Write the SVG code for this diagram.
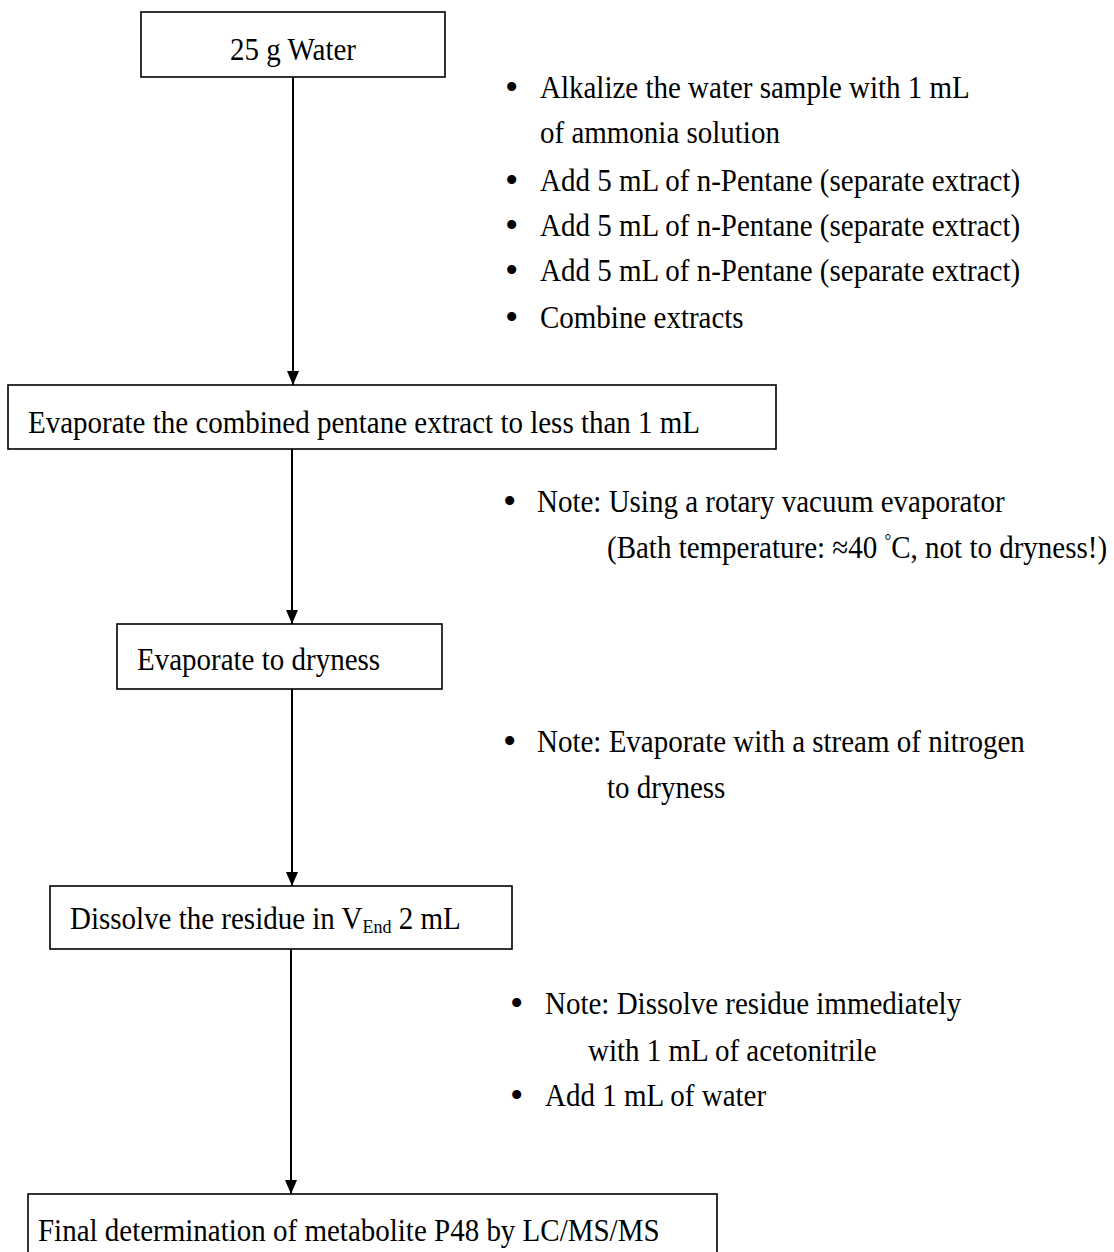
<svg xmlns="http://www.w3.org/2000/svg" width="1114" height="1252" viewBox="0 0 1114 1252">
<style>
.box{fill:#fff;stroke:#000;stroke-width:1.6}
.t{font-family:"Liberation Serif","Times New Roman",serif;font-size:29px;fill:#000}
.b{font-family:"Liberation Serif","Times New Roman",serif;font-size:38px;fill:#000}
.c{stroke:#000;stroke-width:2;fill:none}
</style>
<defs>
<marker id="ah" viewBox="0 0 14 12" refX="14" refY="6" markerWidth="14" markerHeight="12" markerUnits="userSpaceOnUse" orient="auto">
<path d="M0,0 L14,6 L0,12 Z" fill="#000"/>
</marker>
</defs>
<rect width="1114" height="1252" fill="#fff"/>
<g id="connectors">
<line class="c" x1="293" y1="77" x2="293" y2="385" marker-end="url(#ah)"/>
<line class="c" x1="292" y1="449" x2="292" y2="624" marker-end="url(#ah)"/>
<line class="c" x1="292" y1="689" x2="292" y2="886" marker-end="url(#ah)"/>
<line class="c" x1="291" y1="949" x2="291" y2="1194" marker-end="url(#ah)"/>
</g>
<g id="n1">
<rect class="box" x="141" y="12" width="304" height="65"/>
<text class="t" text-anchor="middle" transform="translate(293 60) scale(1 1.1)">25 g Water</text>
</g>
<g id="notes1">
<text class="b" x="505" y="100">•</text>
<text class="t" transform="translate(540 98) scale(1 1.1)">Alkalize the water sample with 1 mL</text>
<text class="t" transform="translate(540 143) scale(1 1.1)">of ammonia solution</text>
<text class="b" x="505" y="193">•</text>
<text class="t" transform="translate(540 191) scale(1 1.1)">Add 5 mL of n-Pentane (separate extract)</text>
<text class="b" x="505" y="238">•</text>
<text class="t" transform="translate(540 236) scale(1 1.1)">Add 5 mL of n-Pentane (separate extract)</text>
<text class="b" x="505" y="283">•</text>
<text class="t" transform="translate(540 281) scale(1 1.1)">Add 5 mL of n-Pentane (separate extract)</text>
<text class="b" x="505" y="330">•</text>
<text class="t" transform="translate(540 328) scale(1 1.1)">Combine extracts</text>
</g>
<g id="n2">
<rect class="box" x="8" y="385" width="768" height="64"/>
<text class="t" transform="translate(28 433) scale(1 1.1)">Evaporate the combined pentane extract to less than 1 mL</text>
</g>
<g id="notes2">
<text class="b" x="503" y="514">•</text>
<text class="t" transform="translate(537 512) scale(1 1.1)">Note: Using a rotary vacuum evaporator</text>
<text class="t" transform="translate(607 558) scale(1 1.1)">(Bath temperature: ≈40 <tspan font-size="17" dy="-10">°</tspan><tspan dy="10">C, not to dryness!)</tspan></text>
</g>
<g id="n3">
<rect class="box" x="117" y="624" width="325" height="65"/>
<text class="t" transform="translate(137 670) scale(1 1.1)">Evaporate to dryness</text>
</g>
<g id="notes3">
<text class="b" x="503" y="754">•</text>
<text class="t" transform="translate(537 752) scale(1 1.1)">Note: Evaporate with a stream of nitrogen</text>
<text class="t" transform="translate(607 798) scale(1 1.1)">to dryness</text>
</g>
<g id="n4">
<rect class="box" x="50" y="886" width="462" height="63"/>
<text class="t" transform="translate(70 929) scale(1 1.1)">Dissolve the residue in V<tspan font-size="18" dy="4">End</tspan><tspan dy="-4"> 2 mL</tspan></text>
</g>
<g id="notes4">
<text class="b" x="510" y="1016">•</text>
<text class="t" transform="translate(545 1014) scale(1 1.1)">Note: Dissolve residue immediately</text>
<text class="t" transform="translate(588 1061) scale(1 1.1)">with 1 mL of acetonitrile</text>
<text class="b" x="510" y="1108">•</text>
<text class="t" transform="translate(545 1106) scale(1 1.1)">Add 1 mL of water</text>
</g>
<g id="n5">
<rect class="box" x="28" y="1194" width="689" height="80"/>
<text class="t" transform="translate(38 1241) scale(1 1.1)">Final determination of metabolite P48 by LC/MS/MS</text>
</g>
</svg>
